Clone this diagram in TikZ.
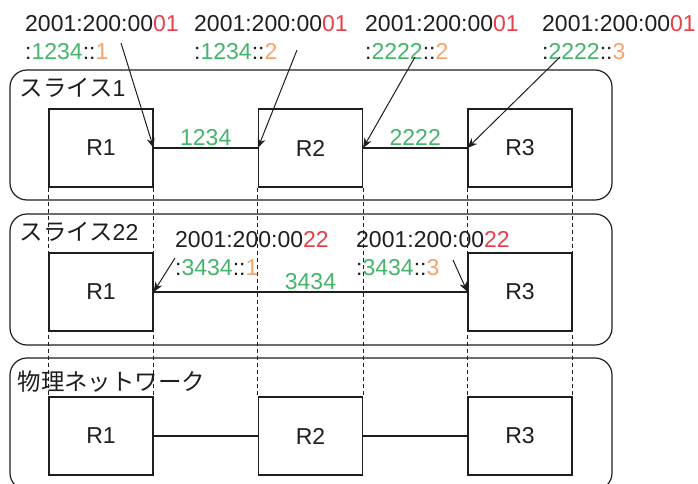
\documentclass[tikz,border=0pt]{standalone}
\usepackage{fontspec}
\setmainfont{Liberation Sans}
\newfontfamily\cjk[Scale=1.02]{Noto Sans CJK JP}
\usetikzlibrary{arrows.meta,calc,positioning}

\definecolor{netred}{HTML}{E8404A}
\definecolor{netgreen}{HTML}{45B46B}
\definecolor{netorange}{HTML}{F6A46C}
\definecolor{ink}{HTML}{1E1E1E}

% address parts: prefix with slice id, suffix with link and host
\newcommand{\pfx}[1]{2001:200:00\textcolor{netred}{#1}}
\newcommand{\sfx}[2]{:\textcolor{netgreen}{#1}::\textcolor{netorange}{#2}}

\begin{document}
\begin{tikzpicture}[x=1pt,y=-1pt,
  font=\fontsize{23}{28}\selectfont, text=ink,
  slice/.style={draw=ink, rounded corners=17pt, line width=1.2pt, minimum width=602pt, inner sep=0},
  router/.style={draw=ink, fill=white, line width=1.2pt, minimum width=104pt, minimum height=78pt, inner sep=0},
  link/.style={draw=ink, line width=2.2pt},
  guide/.style={draw=ink, line width=1pt, dash pattern=on 4pt off 3pt},
  addr/.style={align=left, inner sep=0, anchor=north west},
  ptr/.style={draw=ink, -{Stealth[length=10pt,width=8pt]}, line width=1pt},
  linklbl/.style={text=netgreen, inner sep=1.5pt}
]
\useasboundingbox (0,0) rectangle (698,484);

% Slices
\node[slice, minimum height=130pt] (sl1) at (311,135) {};
\node[slice, minimum height=131pt] (sl22) at (311,279.5) {};
\node[slice, minimum height=132pt] (phys) at (311,424) {};

\node[anchor=west, inner sep=0] (ttl1) at ($(sl1.north west)+(10,18)$) {{\cjk スライス}1};
\node[anchor=west, inner sep=0] (ttl22) at ($(sl22.north west)+(10,18)$) {{\cjk スライス}22};
\node[anchor=west, inner sep=0] (ttlp) at ($(phys.north west)+(8,24)$) {\cjk 物理ネットワーク};

% Routers
\node[router] (r1a) at (101,148) {R1};
\node[router] (r2a) at (310.5,148) {R2};
\node[router] (r3a) at (520,148) {R3};

\node[router] (r1b) at (101,292) {R1};
\node[router] (r3b) at (520,292) {R3};

\node[router] (r1p) at (101,436) {R1};
\node[router] (r2p) at (310.5,436) {R2};
\node[router] (r3p) at (520,436) {R3};

% Guides down to the physical routers
\foreach \k in {1,2,3}
{
\draw[guide] (r\k a.south west) -- (r\k p.north west);
\draw[guide] (r\k a.south east) -- (r\k p.north east);
}

% Links
\draw[link] (r1a) -- node[above, linklbl] {1234} (r2a);
\draw[link] (r2a) -- node[above, linklbl] {2222} (r3a);
\draw[link] (r1b) -- node[above, linklbl] {3434} (r3b);
\draw[link] (r1p) -- (r2p);
\draw[link] (r2p) -- (r3p);

% Addresses
\node[addr] (a1) at (25,15) {\pfx{01}\\\sfx{1234}{1}};
\node[addr] (a2) at (194,15) {\pfx{01}\\\sfx{1234}{2}};
\node[addr] (a3) at (365,15) {\pfx{01}\\\sfx{2222}{2}};
\node[addr] (a4) at (542,15) {\pfx{01}\\\sfx{2222}{3}};
\node[addr] (b1) at (175,231) {\pfx{22}\\\sfx{3434}{1}};
\node[addr] (b2) at (356,231) {\pfx{22}\\\sfx{3434}{3}};

\coordinate (p1) at (121,43);
\coordinate (p2) at (297,50);
\coordinate (p3) at (415,57);
\coordinate (p4) at (560,57);
\coordinate (p5) at (175,258);
\coordinate (p6) at (453,260);

\draw[ptr] (p1) -- (r1a.east);
\draw[ptr] (p2) -- (r2a.west);
\draw[ptr] (p3) -- (r2a.east);
\draw[ptr] (p4) -- (r3a.west);
\draw[ptr] (p5) -- (r1b.east);
\draw[ptr] (p6) -- (r3b.west);

\end{tikzpicture}
\end{document}
